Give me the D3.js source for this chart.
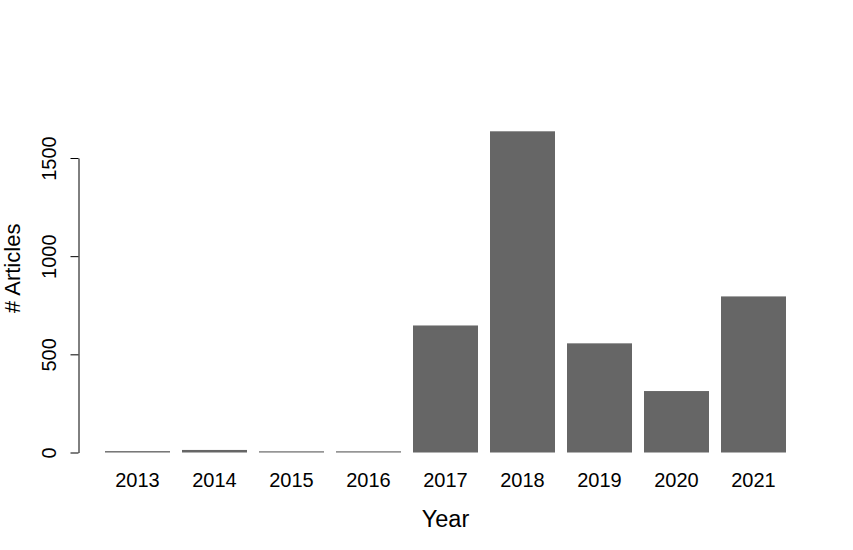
<!DOCTYPE html>
<html>
<head>
<meta charset="utf-8">
<script src="https://cdn.jsdelivr.net/npm/d3@7"></script>
<style>
  html, body { margin: 0; padding: 0; background: #fff; }
  svg { display: block; }
  text { font-family: "Liberation Sans", Arial, sans-serif; fill: #000; }
</style>
</head>
<body>
<script>
const years = ["2013", "2014", "2015", "2016", "2017", "2018", "2019", "2020", "2021"];
const articles = [7, 13, 6, 6, 647, 1636, 556, 313, 795];
const yTicks = [0, 500, 1000, 1500];
const xTitle = "Year";
const yTitle = "# Articles";

const W = 853, H = 550;
const svg = d3.select("body").append("svg").attr("width", W).attr("height", H);

const x = d3.scaleBand().domain(years).range([105, 786]).paddingInner(12 / 77).paddingOuter(0);
const y = d3.scaleLinear().domain([0, 1500]).range([452.5, 158]);

// bars
svg.append("g").selectAll("rect").data(years).join("rect")
  .attr("x", d => x(d))
  .attr("width", x.bandwidth())
  .attr("y", (d, i) => y(articles[i]))
  .attr("height", (d, i) => y(0) - y(articles[i]))
  .attr("fill", "#666666");

// y axis
const yAxis = svg.append("g").attr("transform", "translate(78.5,0)")
  .call(d3.axisLeft(y).tickValues(yTicks).tickSize(8).tickSizeOuter(0).tickFormat(d3.format("d")));
yAxis.select(".domain").attr("stroke", "#000").attr("stroke-width", 1);
yAxis.selectAll(".tick line").attr("stroke", "#000");
yAxis.selectAll(".tick text")
  .attr("font-size", 20)
  .attr("font-family", "Liberation Sans, Arial, sans-serif")
  .attr("fill", "#000")
  .attr("text-anchor", "middle")
  .attr("x", 0).attr("y", 0).attr("dy", 0)
  .attr("transform", "translate(-23,0) rotate(-90)");

// x labels (no axis line, no ticks)
svg.append("g").selectAll("text").data(years).join("text")
  .attr("x", d => x(d) + x.bandwidth() / 2)
  .attr("y", 487)
  .attr("text-anchor", "middle")
  .attr("font-size", 20)
  .text(d => d);

// titles
svg.append("text")
  .attr("x", (x.range()[0] + x.range()[1]) / 2)
  .attr("y", 527)
  .attr("text-anchor", "middle")
  .attr("font-size", 23.5)
  .text(xTitle);

svg.append("text")
  .attr("transform", "translate(20," + ((y(0) + y(1500)) / 2 - 37) + ") rotate(-90)")
  .attr("text-anchor", "middle")
  .attr("font-size", 22)
  .text(yTitle);
</script>
</body>
</html>
